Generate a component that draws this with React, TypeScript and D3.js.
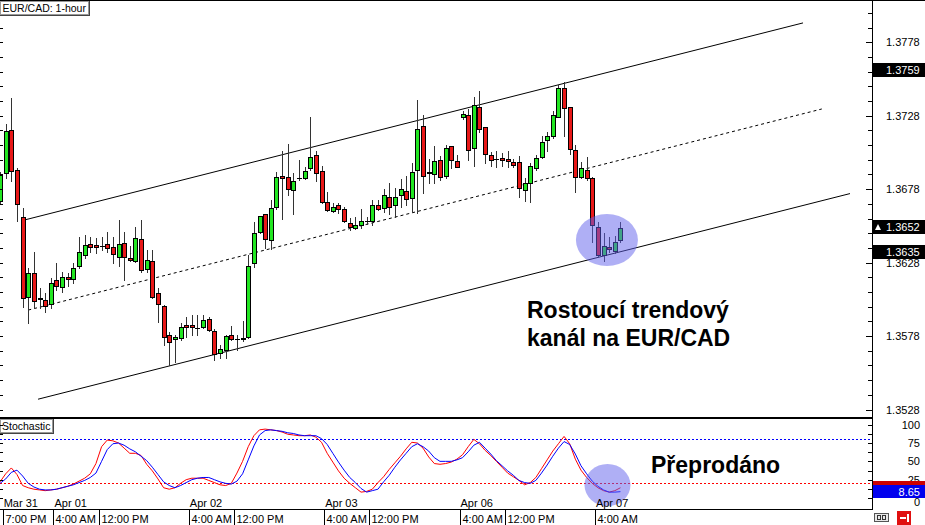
import React from 'react';
import * as d3 from 'd3';

const W = 925;
const H = 525;

// hourly bars, index -1 .. 109 (index 0 = Mar 31 7:00 PM)
const barIndex = d3.range(-1, 110);

const opens = [
  1.36699, 1.36890, 1.37182, 1.36910, 1.36590, 1.36046, 1.36210, 1.36040, 1.36026, 1.35999,
  1.36162, 1.36114, 1.36182, 1.36169, 1.36257, 1.36332, 1.36407, 1.36400, 1.36393, 1.36407,
  1.36386, 1.36318, 1.36414, 1.36312, 1.36291, 1.36441, 1.36237, 1.36291, 1.36074, 1.35985,
  1.35788, 1.35761, 1.35768, 1.35856, 1.35856, 1.35836, 1.35842, 1.35897, 1.35815, 1.35666,
  1.35686, 1.35788, 1.35761, 1.35761, 1.35774, 1.36278, 1.36488, 1.36611, 1.36434, 1.36658,
  1.36869, 1.36862, 1.36774, 1.36856, 1.36856, 1.36924, 1.37012, 1.36903, 1.36692, 1.36631,
  1.36672, 1.36645, 1.36550, 1.36516, 1.36536, 1.36563, 1.36563, 1.36672, 1.36652, 1.36726,
  1.36672, 1.36740, 1.36767, 1.36720, 1.36910, 1.37209, 1.36896, 1.36883, 1.36978, 1.36869,
  1.37073, 1.36971, 1.37270, 1.37284, 1.37060, 1.37338, 1.37202, 1.37012, 1.36985, 1.36992,
  1.36985, 1.36964, 1.36964, 1.36774, 1.36822, 1.36924, 1.36998, 1.37114, 1.37141, 1.37270,
  1.37468, 1.37338, 1.37046, 1.36862, 1.36910, 1.36856, 1.36522, 1.36332, 1.36386, 1.36359,
  1.36434,
];
const highs = [
  1.36896, 1.37223, 1.37400, 1.36924, 1.36652, 1.36244, 1.36352, 1.36108, 1.36074, 1.36176,
  1.36278, 1.36216, 1.36210, 1.36278, 1.36454, 1.36468, 1.36454, 1.36448, 1.36454, 1.36488,
  1.36454, 1.36570, 1.36488, 1.36393, 1.36522, 1.36570, 1.36366, 1.36366, 1.36108, 1.35992,
  1.35808, 1.35788, 1.35870, 1.35910, 1.35924, 1.35924, 1.35924, 1.35910, 1.35829, 1.35720,
  1.35788, 1.35849, 1.35788, 1.35883, 1.36332, 1.36556, 1.36597, 1.36611, 1.36706, 1.36896,
  1.37039, 1.37087, 1.36890, 1.36978, 1.36930, 1.37270, 1.37039, 1.36937, 1.36760, 1.36686,
  1.36686, 1.36658, 1.36584, 1.36590, 1.36645, 1.36590, 1.36706, 1.36706, 1.36781, 1.36822,
  1.36788, 1.36849, 1.36869, 1.36958, 1.37386, 1.37284, 1.36985, 1.37073, 1.37005, 1.37080,
  1.37073, 1.37012, 1.37311, 1.37325, 1.37406, 1.37447, 1.37202, 1.37032, 1.37039, 1.37026,
  1.37039, 1.36985, 1.37005, 1.36856, 1.36958, 1.37012, 1.37141, 1.37168, 1.37311, 1.37488,
  1.37508, 1.37338, 1.37080, 1.36964, 1.36998, 1.36862, 1.36556, 1.36482, 1.36454, 1.36461,
  1.36556,
];
const lows = [
  1.36686, 1.36856, 1.36835, 1.36563, 1.35978, 1.35870, 1.35972, 1.35972, 1.35944, 1.35972,
  1.36094, 1.36080, 1.36121, 1.36142, 1.36244, 1.36312, 1.36352, 1.36346, 1.36366, 1.36352,
  1.36278, 1.36257, 1.36162, 1.36291, 1.36284, 1.36216, 1.36216, 1.36040, 1.35876, 1.35720,
  1.35584, 1.35604, 1.35754, 1.35774, 1.35788, 1.35788, 1.35836, 1.35815, 1.35618, 1.35632,
  1.35632, 1.35754, 1.35686, 1.35747, 1.35768, 1.36250, 1.36482, 1.36380, 1.36373, 1.36645,
  1.36577, 1.36740, 1.36611, 1.36842, 1.36849, 1.36910, 1.36835, 1.36686, 1.36631, 1.36624,
  1.36618, 1.36556, 1.36502, 1.36509, 1.36516, 1.36543, 1.36536, 1.36638, 1.36624, 1.36611,
  1.36590, 1.36658, 1.36672, 1.36624, 1.36618, 1.36754, 1.36822, 1.36822, 1.36842, 1.36856,
  1.36924, 1.36930, 1.37257, 1.36978, 1.36937, 1.37168, 1.36958, 1.36937, 1.36930, 1.36937,
  1.36930, 1.36930, 1.36726, 1.36699, 1.36692, 1.36910, 1.36992, 1.37039, 1.37128, 1.37270,
  1.37141, 1.37019, 1.36760, 1.36856, 1.36842, 1.36420, 1.36318, 1.36291, 1.36352, 1.36346,
  1.36420,
];
const closes = [
  1.36876, 1.37175, 1.36903, 1.36679, 1.36040, 1.36210, 1.36019, 1.36033, 1.35985, 1.36142,
  1.36121, 1.36182, 1.36169, 1.36244, 1.36352, 1.36400, 1.36386, 1.36386, 1.36390, 1.36380,
  1.36339, 1.36407, 1.36318, 1.36298, 1.36448, 1.36230, 1.36298, 1.36046, 1.35999, 1.35774,
  1.35740, 1.35774, 1.35842, 1.35842, 1.35842, 1.35836, 1.35890, 1.35822, 1.35659, 1.35693,
  1.35781, 1.35761, 1.35761, 1.35768, 1.36257, 1.36482, 1.36597, 1.36441, 1.36652, 1.36862,
  1.36856, 1.36781, 1.36835, 1.36856, 1.36903, 1.36998, 1.36890, 1.36692, 1.36638, 1.36658,
  1.36645, 1.36563, 1.36522, 1.36536, 1.36563, 1.36563, 1.36672, 1.36645, 1.36740, 1.36658,
  1.36726, 1.36781, 1.36713, 1.36896, 1.37189, 1.36869, 1.36890, 1.36971, 1.36862, 1.37060,
  1.36978, 1.36930, 1.37291, 1.37046, 1.37352, 1.37189, 1.37019, 1.36978, 1.36985, 1.36978,
  1.36971, 1.36944, 1.36788, 1.36822, 1.36937, 1.36992, 1.37100, 1.37141, 1.37284, 1.37468,
  1.37332, 1.37053, 1.36862, 1.36924, 1.36856, 1.36536, 1.36332, 1.36393, 1.36373, 1.36420,
  1.36516,
];

// Stochastic oscillator, per bar (red = %K, blue = %D)
const stochK = [
  22, 33, 41, 32, 17, 14, 12, 11, 10, 11, 12, 14, 16, 19, 23, 27, 33, 47, 70, 79,
  78, 75, 68, 61, 61, 58, 46, 37, 26, 14, 12, 14, 20, 25, 27, 27, 27, 24, 21, 18,
  17, 20, 34, 50, 70, 85, 93, 94, 93, 92, 90, 87, 86, 85, 85, 86, 83, 76, 61, 49,
  37, 27, 20, 14, 8, 9, 12, 21, 29, 39, 48, 57, 67, 76, 75, 68, 56, 47, 46, 47,
  49, 53, 59, 70, 80, 74, 65, 58, 50, 42, 34, 29, 24, 18, 21, 28, 40, 52, 64, 74,
  84, 74, 53, 38, 28, 20, 14, 10, 8, 10, 14,
];
const stochD = [
  20, 26, 35, 38, 30, 20, 15, 12, 11, 11, 12, 14, 16, 18, 21, 24, 28, 34, 50, 66,
  74, 75, 72, 67, 63, 57, 51, 42, 32, 22, 17, 14, 17, 21, 25, 27, 28, 28, 25, 22,
  20, 19, 23, 33, 52, 71, 86, 92, 93, 92, 91, 89, 88, 86, 85, 85, 85, 81, 73, 61,
  49, 38, 28, 21, 13, 8, 10, 12, 22, 31, 42, 52, 61, 70, 74, 70, 64, 55, 50, 50,
  50, 52, 55, 63, 72, 76, 68, 60, 51, 44, 37, 31, 24, 21, 20, 24, 34, 45, 57, 68,
  77, 73, 60, 44, 33, 23, 16, 11, 8, 8, 8.65,
];

const priceLabels = [1.3528, 1.3578, 1.3628, 1.3678, 1.3728, 1.3778];
const priceMinorTicks = d3.range(0, 30).map((k) => 1.3518 + k * 0.001);
const markedPrices = [1.3759, 1.3652, 1.3635];
const bidPrice = 1.3652;

const stochLabels = [100, 75, 50, 25, 0];
const stochMinorTicks = d3.range(0, 9).map((k) => k * 12.5);
const stochLevelHigh = 80;
const stochLevelLow = 20;

const timeTickIdx = [0, 9, 17, 33, 41, 57, 65, 81, 89, 105];
const timeTickText = ['7:00 PM', '4:00 AM', '12:00 PM', '4:00 AM', '12:00 PM', '4:00 AM', '12:00 PM', '4:00 AM', '12:00 PM', '4:00 AM'];
const dateTickIdx = [0, 9, 33, 57, 81, 105];
const dateTickText = ['Mar 31', 'Apr 01', 'Apr 02', 'Apr 03', 'Apr 06', 'Apr 07'];

// channel anchor points: [bar index, price]
const upperChannel = [[3.4, 1.36571], [141.37, 1.37912]];
const middleChannel = [[4.0, 1.35957], [144.7, 1.37326]];
const lowerChannel = [[5.73, 1.3535], [149.7, 1.3675]];

// highlight ellipses: [bar index, value]
const priceHighlight = [106.6, 1.36434];
const stochHighlight = [106.7, 17.7];

const FONT = 'Liberation Sans, Arial, sans-serif';
const GREEN = '#22e622';
const RED = '#e81818';

export default function App() {
  const AX = 872;
  const x = d3.scaleLinear().domain([0, 109]).range([5.7, 620.46]);
  const y = d3.scaleLinear().domain([1.3528, 1.3778]).range([409.5, 42.3]);
  const sy = d3.scaleLinear().domain([0, 100]).range([498, 424.7]);

  const kPath = d3.line<number>().x((_, k) => x(barIndex[k])).y((v) => sy(v))(stochK) || '';
  const dPath = d3.line<number>().x((_, k) => x(barIndex[k])).y((v) => sy(v))(stochD) || '';

  const chLine = (pts: number[][]) => ({ x1: x(pts[0][0]), y1: y(pts[0][1]), x2: x(pts[1][0]), y2: y(pts[1][1]) });
  const up = chLine(upperChannel);
  const mid = chLine(middleChannel);
  const lo = chLine(lowerChannel);

  const kLast = stochK[stochK.length - 1];
  const dLast = stochD[stochD.length - 1];
  const ky = Math.round(sy(kLast));
  const dy = Math.round(sy(dLast));

  return (
    <svg width={W} height={H} viewBox={`0 0 ${W} ${H}`} style={{ position: 'absolute', left: 0, top: 0, display: 'block', background: '#fff' }} fontFamily={FONT}>
      <defs>
        <clipPath id="mainClip"><rect x={0} y={1} width={AX} height={416} /></clipPath>
        <clipPath id="stochClip"><rect x={0} y={419} width={AX} height={90} /></clipPath>
      </defs>
      <rect x={0} y={0} width={W} height={H} fill="#fff" />

      {/* main panel */}
      <g clipPath="url(#mainClip)">
        <line {...up} stroke="#000" strokeWidth={1} />
        <line {...mid} stroke="#000" strokeWidth={1} strokeDasharray="3 3" />
        <line {...lo} stroke="#000" strokeWidth={1} />
        {barIndex.map((i, k) => {
          const o = opens[k], h = highs[k], l = lows[k], c = closes[k];
          const cx = Math.round(x(i));
          const top = Math.round(y(Math.max(o, c)));
          const bot = Math.round(y(Math.min(o, c)));
          const bull = c >= o;
          return (
            <g key={i} shapeRendering="crispEdges">
              <line x1={cx + 0.5} x2={cx + 0.5} y1={Math.round(y(h))} y2={Math.round(y(l)) + 1} stroke="#333" />
              {bot - top >= 1 ? (
                <rect x={cx - 1.5} y={top + 0.5} width={4} height={bot - top} fill={bull ? GREEN : RED} stroke="#000" />
              ) : (
                <line x1={cx - 2} x2={cx + 3} y1={top + 0.5} y2={top + 0.5} stroke="#000" />
              )}
            </g>
          );
        })}
        <ellipse cx={x(priceHighlight[0])} cy={y(priceHighlight[1])} rx={31} ry={26} fill="rgba(95,95,235,0.5)" />
      </g>

      <text x={527} y={318} fontSize={23} fontWeight="bold" fill="#000">Rostoucí trendový</text>
      <text x={527} y={346} fontSize={23} fontWeight="bold" fill="#000">kanál na EUR/CAD</text>

      {/* left edge ticks */}
      {priceMinorTicks.map((v, k) => {
        const yy = Math.round(y(v)) + 0.5;
        if (yy < 2 || yy > 416) return null;
        return <line key={'lt' + k} x1={0} x2={3} y1={yy} y2={yy} stroke="#000" shapeRendering="crispEdges" />;
      })}

      {/* title box */}
      <g shapeRendering="crispEdges">
        <rect x={0.5} y={1.5} width={88} height={13} fill="#fff" stroke="#999" />
        <line x1={89.5} x2={89.5} y1={1} y2={16} stroke="#444" />
        <line x1={0} x2={90} y1={15.5} y2={15.5} stroke="#444" />
      </g>
      <text x={2.5} y={12} fontSize={10.5} fill="#000">EUR/CAD: 1-hour</text>

      {/* frame */}
      <g shapeRendering="crispEdges">
        <line x1={0} x2={W} y1={0.5} y2={0.5} stroke="#000" />
        <line x1={0} x2={AX} y1={418} y2={418} stroke="#000" strokeWidth={2} />
        <line x1={0} x2={AX} y1={509.5} y2={509.5} stroke="#000" />
        <line x1={AX + 0.5} x2={AX + 0.5} y1={0} y2={510} stroke="#000" />
      </g>

      {/* right price axis */}
      {priceMinorTicks.map((v, k) => {
        const yy = Math.round(y(v)) + 0.5;
        if (yy < 2 || yy > 416) return null;
        const major = priceLabels.some((p) => Math.abs(p - v) < 1e-6);
        return <line key={'rt' + k} x1={major ? AX - 6 : AX - 4} x2={AX} y1={yy} y2={yy} stroke="#000" shapeRendering="crispEdges" />;
      })}
      {priceLabels.map((v) => (
        <text key={'pl' + v} x={886} y={y(v) + 4} fontSize={11} fill="#000">{v.toFixed(4)}</text>
      ))}
      {markedPrices.map((v) => {
        const yy = Math.round(y(v));
        return (
          <g key={'mp' + v}>
            <rect x={AX + 1} y={yy - 7} width={W - AX - 1} height={14} fill="#000" />
            {v === bidPrice && <polygon points={`${AX + 3},${yy + 3} ${AX + 9},${yy + 3} ${AX + 6},${yy - 3}`} fill="#fff" />}
            <text x={886} y={yy + 4} fontSize={11} fill="#fff">{v.toFixed(4)}</text>
          </g>
        );
      })}

      {/* stochastic panel */}
      <g clipPath="url(#stochClip)">
        <line x1={0} x2={AX} y1={Math.round(sy(stochLevelHigh)) + 0.5} y2={Math.round(sy(stochLevelHigh)) + 0.5} stroke="#0000ff" strokeDasharray="2 2" shapeRendering="crispEdges" />
        <line x1={0} x2={AX} y1={Math.round(sy(stochLevelLow)) + 0.5} y2={Math.round(sy(stochLevelLow)) + 0.5} stroke="#ff0000" strokeDasharray="2 2" shapeRendering="crispEdges" />
        <path d={kPath} fill="none" stroke="#ff0000" strokeWidth={1} />
        <path d={dPath} fill="none" stroke="#0000ff" strokeWidth={1} />
        <ellipse cx={x(stochHighlight[0])} cy={sy(stochHighlight[1])} rx={23} ry={21} fill="rgba(95,95,235,0.5)" />
      </g>
      <text x={651} y={473} fontSize={23} fontWeight="bold" fill="#000">Přeprodáno</text>

      <g shapeRendering="crispEdges">
        <rect x={0.5} y={419.5} width={52} height={13} fill="#fff" stroke="#999" />
        <line x1={53.5} x2={53.5} y1={419} y2={434} stroke="#444" />
        <line x1={0} x2={54} y1={433.5} y2={433.5} stroke="#444" />
      </g>
      <text x={2} y={430} fontSize={10.5} fill="#000">Stochastic</text>

      {stochMinorTicks.map((v) => {
        const yy = Math.round(sy(v)) + 0.5;
        return (
          <g key={'st' + v} shapeRendering="crispEdges">
            <line x1={AX - 4} x2={AX} y1={yy} y2={yy} stroke="#000" />
            <line x1={0} x2={3} y1={yy} y2={yy} stroke="#000" />
          </g>
        );
      })}
      {stochLabels.map((v) => (
        <text key={'sl' + v} x={920} y={v === 0 ? sy(v) + 8 : sy(v) + 4} fontSize={11} textAnchor="end" fill="#000">{v}</text>
      ))}
      <rect x={AX + 1} y={ky - 7} width={W - AX - 1} height={14} fill="#cc0000" />
      <rect x={AX + 1} y={dy - 7} width={W - AX - 1} height={13} fill="#0000ee" />
      <text x={920} y={dy + 4} fontSize={11} textAnchor="end" fill="#fff">{dLast.toFixed(2)}</text>

      {/* date labels */}
      {dateTickIdx.map((i, k) => (
        <text key={'dt' + k} x={x(i) - 2} y={507} fontSize={11} fill="#000">{dateTickText[k]}</text>
      ))}

      {/* time axis */}
      {timeTickIdx.map((i, k) => {
        const tx = Math.round(x(i)) - 3 + 0.5;
        return (
          <g key={'tt' + k}>
            <line x1={tx} x2={tx} y1={510} y2={525} stroke="#000" shapeRendering="crispEdges" />
            <text x={tx + 2} y={523} fontSize={11} fill="#000">{timeTickText[k]}</text>
          </g>
        );
      })}

      {/* corner buttons */}
      <g shapeRendering="crispEdges">
        <rect x={874.5} y={513.5} width={14} height={8} fill="#e8e8e8" stroke="#555" />
        <rect x={877.5} y={515.5} width={3} height={4} fill="none" stroke="#333" />
        <rect x={882.5} y={515.5} width={3} height={4} fill="none" stroke="#333" />
        <rect x={897} y={511} width={14} height={14} fill="#e01010" />
        <line x1={900} x2={906} y1={518} y2={518} stroke="#fff" strokeWidth={2} />
        <line x1={908} x2={908} y1={514} y2={522} stroke="#fff" strokeWidth={2} />
      </g>
    </svg>
  );
}
